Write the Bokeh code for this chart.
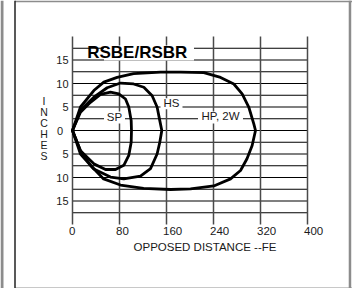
from bokeh.plotting import figure
from bokeh.models import ColumnDataSource, Range1d, Span
from bokeh.embed import file_html
from bokeh.resources import INLINE
from bokeh.core.properties import value

# ---------------- data ----------------
x_ticks = [0, 80, 160, 240, 320, 400]
x_tick_labels = ["0", "80", "160", "240", "320", "400"]
y_ticks = [15, 10, 5, 0, -5, -10, -15]
y_tick_labels = ["15", "10", "5", "0", "5", "10", "15"]
y_lines = [17.5, 15, 12.5, 10, 7.5, 5, 2.5, 0, -2.5, -5, -7.5, -10, -12.5, -15, -17.5]

# SP lobe
sp_up_x = [0, 13.6, 30.6, 47.7, 64.7, 78.8, 90.2, 95.8, 99.9, 100.4]
sp_up_y = [0, 3.9, 6.0, 7.7, 8.15, 7.8, 6.7, 5.0, 2.1, 0]
sp_lo_x = [100.4, 99.9, 95.8, 87.3, 73.2, 56.2, 36.3, 13.6, 0]
sp_lo_y = [0, -2.5, -5.3, -7.4, -8.3, -8.3, -7.1, -4.3, 0]

# HS lobe
hs_up_x = [0, 13.6, 36.3, 59, 81.7, 104, 121.4, 135.6, 144, 148.6, 152]
hs_up_y = [0, 4.3, 7.1, 9.1, 10.1, 9.9, 9.2, 7.4, 5.0, 2.1, 0]
hs_lo_x = [152, 148.6, 144, 132.8, 115.7, 87.3, 64.7, 36.3, 13.6, 0]
hs_lo_y = [0, -2.5, -5.0, -8.1, -9.7, -10.3, -9.9, -8.2, -5.0, 0]

# HP, 2W lobe
hp_up_x = [0, 13.6, 36.3, 53.3, 76, 104, 150, 184, 223.5, 252, 274.6, 288.8, 300, 308.6, 311.5]
hp_up_y = [0, 5.0, 8.5, 10.3, 11.3, 12.1, 12.4, 12.4, 12.3, 11.3, 9.9, 7.8, 5.0, 1.4, 0]
hp_lo_x = [311.5, 305.8, 297, 286, 269, 240.5, 200.9, 166.8, 121, 81.7, 53, 30.6, 13.6, 0]
hp_lo_y = [0, -3.2, -6.0, -8.5, -10.3, -11.8, -12.4, -12.55, -12.3, -11.6, -10.3, -7.4, -4.3, 0]

title_text = "RSBE/RSBR"
x_title = "OPPOSED DISTANCE --FE"
y_title = "INCHES"
lobe_names = ["SP", "HS", "HP, 2W"]

# ---------------- figure ----------------
FONT = "Liberation Sans"
p = figure(width=352, height=288,
           x_range=Range1d(-122.553, 476.596), y_range=Range1d(-33.617, 27.660),
           x_axis_type=None, y_axis_type=None,
           output_backend="svg", toolbar_location=None, min_border=0)
p.outline_line_color = None
p.background_fill_color = "white"
p.border_fill_color = "white"
p.xgrid.visible = False
p.ygrid.visible = False

# edges of the original picture
p.add_layout(Span(location=-120.0, dimension="height", line_color="#8c8c8c", line_width=3))
p.add_layout(Span(location=-97.87, dimension="height", line_color="#222222", line_width=1.5))
p.add_layout(Span(location=472.3, dimension="height", line_color="#8c8c8c", line_width=2.5))
p.segment(x0=[-97.87, -97.87], x1=[476.6, 476.6], y0=[27.49, -33.4], y1=[27.49, -33.4],
          line_color=["#8c8c8c", "#c8c8c8"], line_width=[1.8, 1.2])

# horizontal grid lines (0..400)
p.segment(x0=[x_ticks[0]] * len(y_lines), x1=[x_ticks[-1]] * len(y_lines),
          y0=y_lines, y1=y_lines, line_color="black", line_width=1.1)
# vertical grid lines (-20..20)
p.segment(x0=x_ticks, x1=x_ticks, y0=[-20] * len(x_ticks), y1=[20] * len(x_ticks),
          line_color="#4a4a4a", line_width=1.5)

# white boxes behind labels
p.rect(x=[130.2], y=[16.5], width=90, height=15, width_units="screen", height_units="screen",
       fill_color="white", line_color=None)
lab_x = [71.5, 168.5, 251.9]
lab_y = [2.77, 5.85, 2.98]
p.rect(x=lab_x, y=[2.77, 5.7, 2.77], width=[21, 22, 45], height=[12, 11, 12],
       width_units="screen", height_units="screen", fill_color="white", line_color=None)

# lobes
for ux, uy, lx, ly in [(hp_up_x, hp_up_y, hp_lo_x, hp_lo_y),
                       (hs_up_x, hs_up_y, hs_lo_x, hs_lo_y),
                       (sp_up_x, sp_up_y, sp_lo_x, sp_lo_y)]:
    p.line(ux + lx[1:], uy + ly[1:], line_color="black", line_width=2.8,
           line_join="round", line_cap="round")

# lobe labels
p.text(x=lab_x, y=lab_y, text=lobe_names, text_font=value(FONT), text_font_size="11.5px",
       text_align="center", text_baseline="middle", text_color="#1a1a1a")

# title
p.text(x=[25.0], y=[16.6], text=[title_text], text_font=value(FONT), text_font_size="17px",
       text_font_style="bold", text_align="left", text_baseline="middle", text_color="black")

# y tick labels
ysrc = ColumnDataSource(dict(x=[0] * len(y_ticks), y=y_ticks, t=y_tick_labels,
                             dx=[-9.3 if t == 0 else -4 for t in y_ticks]))
p.text(x="x", y="y", text="t", x_offset="dx", source=ysrc, text_font=value(FONT),
       text_font_size="11px", text_align="right", text_baseline="middle", text_color="#1a1a1a")

# x tick labels
p.text(x=x_ticks, y=[-21.3] * len(x_ticks), text=x_tick_labels, x_offset=-3.5,
       text_font=value(FONT), text_font_size="11.5px", text_align="left",
       text_baseline="middle", text_color="#1a1a1a")

# axis titles
p.text(x=[225.5], y=[-24.8], text=[x_title], text_font=value(FONT), text_font_size="11.5px",
       text_align="center", text_baseline="middle", text_color="#1a1a1a")
letters = list(y_title)
p.text(x=[-48.5] * len(letters), y=[6.38 - 2.34 * i for i in range(len(letters))], text=letters,
       text_font=value(FONT), text_font_size="10.5px", text_align="center",
       text_baseline="middle", text_color="#1a1a1a")

open("out.html", "w").write(file_html(p, INLINE))
